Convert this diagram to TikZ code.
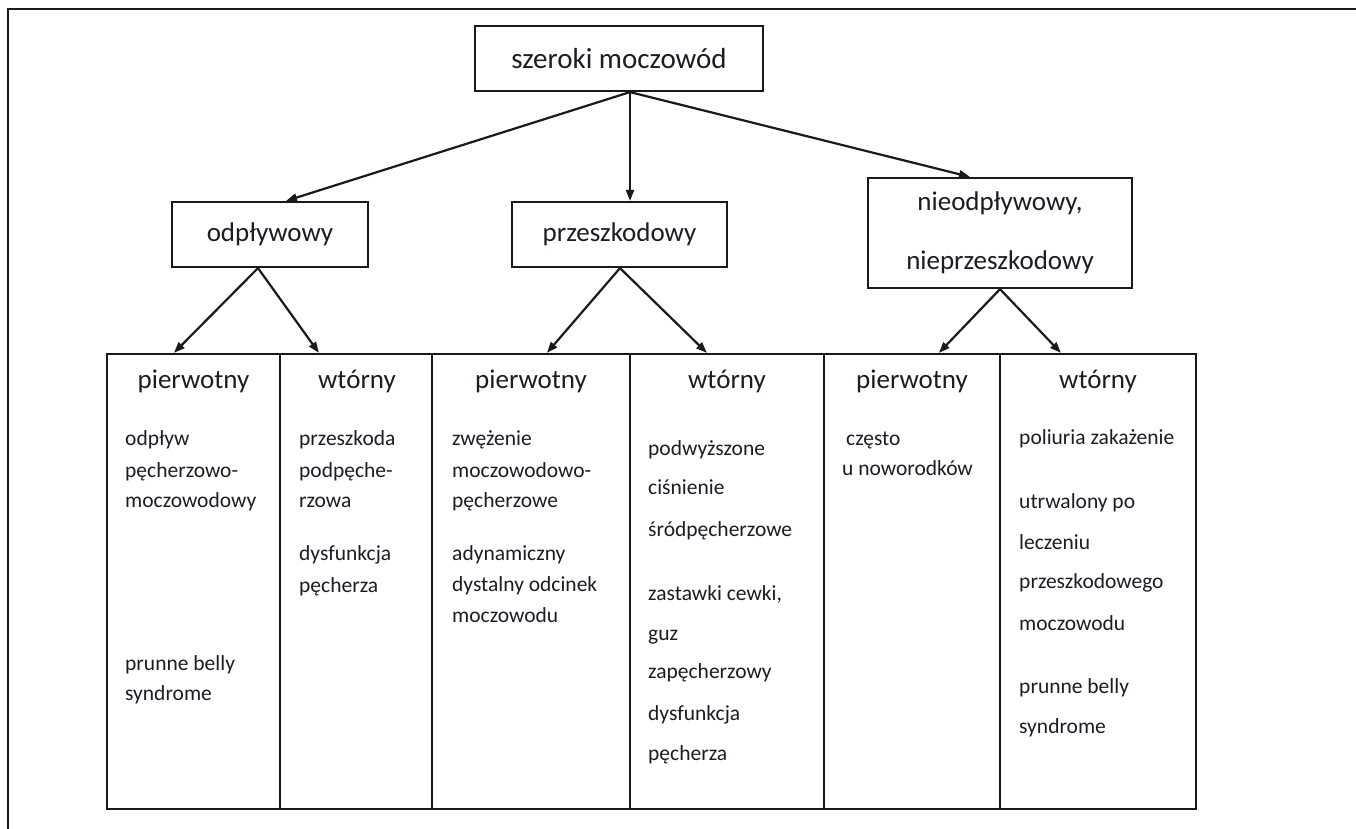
\documentclass[tikz,border=0pt]{standalone}
\usepackage{fontspec}
\setmainfont{Carlito}
\usetikzlibrary{arrows.meta,calc}
\definecolor{lineC}{HTML}{1A1A1A}
\definecolor{txtC}{HTML}{1C1C26}
\begin{document}
\begin{tikzpicture}[x=1pt,y=-1pt,
  box/.style={draw=lineC,line width=2.2pt,inner sep=0pt,align=center,text=txtC},
  colbox/.style={draw=lineC,line width=2.2pt,inner sep=0pt,minimum width=#1,minimum height=455},
  arr/.style={draw=lineC,line width=2.2pt,-{Triangle[length=11pt,width=8pt]}},
  head/.style={anchor=base,inner sep=0pt,text=txtC,font=\fontsize{27}{32}\selectfont},
  body/.style={anchor=base west,inner sep=0pt,text=txtC,font=\fontsize{21.5}{26}\selectfont},
  lvl/.style={font=\fontsize{27}{32}\selectfont}
]
\useasboundingbox (0,0) rectangle (1356,829);
\fill[white] (0,0) rectangle (1356,829);
% frame
\draw[lineC,line width=2.2pt] (1356,9) -- (8,9) -- (8,829);

% top box
\node[box,minimum width=288,minimum height=65,font=\fontsize{29}{34}\selectfont] (top) at (619,58.5) {szeroki moczowód};
% level 2
\node[box,lvl,minimum width=196,minimum height=65] (odp) at (270,234.5) {odpływowy};
\node[box,lvl,minimum width=215,minimum height=65] (prz) at (619.5,234.5) {przeszkodowy};
\node[box,minimum width=264,minimum height=110,font=\fontsize{27}{32}\selectfont] (nie) at (1000,233) {nieodpływowy,\\[27pt]nieprzeszkodowy};

% table columns
\node[colbox=173] (c1) at (193.5,581.5) {};
\node[colbox=152] (c2) at (356,581.5) {};
\node[colbox=198] (c3) at (531,581.5) {};
\node[colbox=194] (c4) at (727,581.5) {};
\node[colbox=176] (c5) at (912,581.5) {};
\node[colbox=196] (c6) at (1098,581.5) {};

% arrows level 1
\coordinate (o0) at ($(top.south)+(11,0)$);
\coordinate (t1) at ($(odp.north)+(16,0)$);
\coordinate (t3) at ($(nie.north)+(-30,0)$);
\draw[arr] (o0) -- (t1);
\draw[arr] (o0) -- (o0 |- prz.north);
\draw[arr] (o0) -- (t3);

% arrows level 2
\coordinate (oa) at ($(odp.south)+(-12,0)$);
\coordinate (ob) at ($(prz.south)+(0.5,0)$);
\coordinate (oc) at (nie.south);
\coordinate (a1) at ($(c1.north west)+(68,0)$);
\coordinate (a2) at ($(c2.north west)+(40,0)$);
\coordinate (a3) at ($(c3.north west)+(116,0)$);
\coordinate (a4) at ($(c4.north west)+(78,0)$);
\coordinate (a5) at ($(c5.north west)+(116,0)$);
\coordinate (a6) at ($(c6.north west)+(62,0)$);
\draw[arr] (oa) -- (a1);
\draw[arr] (oa) -- (a2);
\draw[arr] (ob) -- (a3);
\draw[arr] (ob) -- (a4);
\draw[arr] (oc) -- (a5);
\draw[arr] (oc) -- (a6);

% headings
\node[head] (h1) at (193.5,388) {pierwotny};
\node[head] (h2) at (357,388) {wtórny};
\node[head] (h3) at (531,388) {pierwotny};
\node[head] (h4) at (727,388) {wtórny};
\node[head] (h5) at (912,388) {pierwotny};
\node[head] (h6) at (1098,388) {wtórny};

% column 1
\foreach \t/\y [count=\i] in {odpływ/445, pęcherzowo-/477, moczowodowy/507, prunne belly/670, syndrome/700}
  \node[body] (b1-\i) at (125,\y) {\t};
% column 2
\foreach \t/\y [count=\i] in {przeszkoda/445, podpęche-/477, rzowa/507, dysfunkcja/560, pęcherza/592}
  \node[body] (b2-\i) at (299,\y) {\t};
% column 3
\foreach \t/\y [count=\i] in {zwężenie/445, moczowodowo-/477, pęcherzowe/507, adynamiczny/560, dystalny odcinek/591, moczowodu/622}
  \node[body] (b3-\i) at (452,\y) {\t};
% column 4
\foreach \t/\y [count=\i] in {podwyższone/455, ciśnienie/494, śródpęcherzowe/536, {zastawki cewki,}/600, guz/640, zapęcherzowy/678, dysfunkcja/720, pęcherza/760}
  \node[body] (b4-\i) at (648,\y) {\t};
% column 5
\node[body] (b5-1) at (846,445) {często};
\node[body] (b5-2) at (842,475) {u noworodków};
% column 6
\foreach \t/\y [count=\i] in {poliuria zakażenie/444, utrwalony po/508, leczeniu/549, przeszkodowego/588, moczowodu/630, prunne belly/693, syndrome/733}
  \node[body] (b6-\i) at (1019,\y) {\t};
\end{tikzpicture}
\end{document}
